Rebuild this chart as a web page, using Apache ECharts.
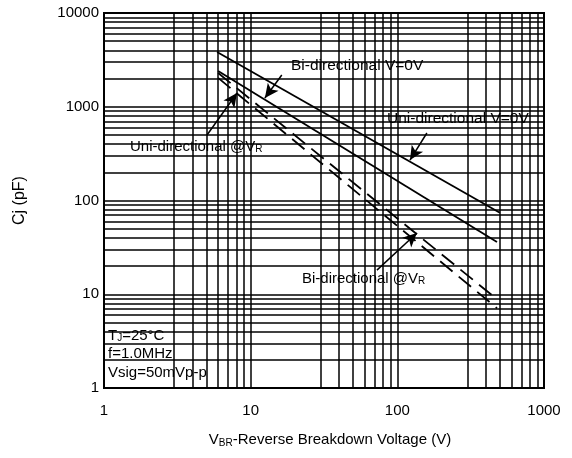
<!DOCTYPE html>
<html>
<head>
<meta charset="utf-8">
<script src="https://cdn.jsdelivr.net/npm/echarts@6/dist/echarts.min.js"></script>
<style>
    html, body { margin: 0; padding: 0; background: #fff; }
    #main { width: 572px; height: 458px; }
</style>
</head>
<body>
<div id="main"></div>
<script>
    // axis grid values (log scale)
    const xMinor = [3, 4, 5, 6, 7, 8, 9, 30, 40, 50, 60, 70, 80, 90, 300, 400, 500, 600, 700, 800, 900];
    const yMinor = [2, 3, 4, 5, 6, 7, 8, 9, 20, 30, 40, 50, 60, 70, 80, 90,
        200, 300, 400, 500, 600, 700, 800, 900, 2000, 3000, 4000, 5000, 6000, 7000, 8000, 9000];

    // curves: breakdown voltage (V) -> junction capacitance (pF)
    const uniZeroVolt = [5.9, 500];
    const uniZeroCap = [3840, 74];
    const biZeroVolt = [6.0, 478];
    const biZeroCap = [2400, 36];
    const uniVrVolt = [6.0, 441];
    const uniVrCap = [2290, 9.8];
    const biVrVolt = [6.0, 478];
    const biVrCap = [2030, 7.1];

    function zip(a, b) {
        return a.map((v, i) => [v, b[i]]);
    }

    const font = 'Liberation Sans, Arial, sans-serif';
    const chart = echarts.init(document.getElementById('main'));

    function arrow(from, to) {
        return [{ coord: from, symbol: 'none' }, { coord: to, symbol: 'arrow' }];
    }

    chart.setOption({
        animation: false,
        backgroundColor: '#fff',
        grid: {
            left: 104, right: 28, top: 13, bottom: 70,
            show: true, borderColor: '#000', borderWidth: 2
        },
        xAxis: {
            type: 'log', logBase: 10, min: 1, max: 1000,
            name: '{a|V}{b|BR}{a|-Reverse Breakdown Voltage (V)}',
            nameLocation: 'middle', nameGap: 44,
            nameTextStyle: {
                padding: [0, 0, 0, 12],
                rich: {
                    a: { fontFamily: font, fontSize: 15, color: '#000' },
                    b: { fontFamily: font, fontSize: 10, color: '#000', verticalAlign: 'bottom', padding: [6, 0, 0, 0] }
                }
            },
            axisLine: { lineStyle: { color: '#000', width: 2 } },
            axisTick: { show: false },
            axisLabel: { color: '#000', fontFamily: font, fontSize: 15, margin: 15, formatter: v => String(v) },
            splitLine: { show: true, lineStyle: { color: '#000', width: 1.5 } }
        },
        yAxis: {
            type: 'log', logBase: 10, min: 1, max: 10000,
            name: 'Cj (pF)', nameLocation: 'middle', nameGap: 76, nameRotate: 90,
            nameTextStyle: { fontFamily: font, fontSize: 16, color: '#000' },
            axisLine: { lineStyle: { color: '#000', width: 2 } },
            axisTick: { show: false },
            axisLabel: { color: '#000', fontFamily: font, fontSize: 15, margin: 5, formatter: v => String(v) },
            splitLine: { show: true, lineStyle: { color: '#000', width: 1.5 } }
        },
        series: [
            {
                name: 'grid', type: 'line', data: [], silent: true, z: 1,
                markLine: {
                    silent: true, symbol: ['none', 'none'], animation: false,
                    label: { show: false },
                    lineStyle: { color: '#000', width: 1.5, type: 'solid' },
                    data: xMinor.map(v => ({ xAxis: v })).concat(yMinor.map(v => ({ yAxis: v })))
                }
            },
            {
                name: 'Uni-directional V=0V', type: 'line', data: zip(uniZeroVolt, uniZeroCap),
                showSymbol: false, z: 3, lineStyle: { color: '#000', width: 1.8 }
            },
            {
                name: 'Bi-directional V=0V', type: 'line', data: zip(biZeroVolt, biZeroCap),
                showSymbol: false, z: 3, lineStyle: { color: '#000', width: 1.8 }
            },
            {
                name: 'Uni-directional @VR', type: 'line', data: zip(uniVrVolt, uniVrCap),
                showSymbol: false, z: 3, lineStyle: { color: '#000', width: 1.8, type: [16, 8] }
            },
            {
                name: 'Bi-directional @VR', type: 'line', data: zip(biVrVolt, biVrCap),
                showSymbol: false, z: 3, lineStyle: { color: '#000', width: 1.8, type: [16, 8] },
                markLine: {
                    silent: true, animation: false, symbolSize: [10, 14],
                    label: { show: false },
                    lineStyle: { color: '#000', width: 1.5, type: 'solid' },
                    data: [
                        arrow([16.3, 2180], [12.5, 1240]),
                        arrow([159, 525], [122, 270]),
                        arrow([5.04, 500], [8.07, 1400]),
                        arrow([72.6, 18.1], [136, 45])
                    ]
                }
            }
        ],
        graphic: [
            { type: 'text', left: 291, top: 58, z: 10, style: { text: 'Bi-directional V=0V', font: '15.5px ' + font, fill: '#000' } },
            { type: 'text', left: 387, top: 111, z: 10, style: { text: 'Uni-directional V=0V', font: '15.5px ' + font, fill: '#000' } },
            {
                type: 'text', left: 130, top: 139, z: 10,
                style: {
                    text: '{a|Uni-directional @V}{b|R}',
                    rich: { a: { font: '15px ' + font, fill: '#000' }, b: { font: '10px ' + font, fill: '#000', padding: [6, 0, 0, 0] } }
                }
            },
            {
                type: 'text', left: 302, top: 271, z: 10,
                style: {
                    text: '{a|Bi-directional @V}{b|R}',
                    rich: { a: { font: '15px ' + font, fill: '#000' }, b: { font: '10px ' + font, fill: '#000', padding: [6, 0, 0, 0] } }
                }
            },
            {
                type: 'text', left: 108, top: 328, z: 10,
                style: {
                    text: '{a|T}{b|J}{a|=25°C}',
                    rich: { a: { font: '15px ' + font, fill: '#000' }, b: { font: '10px ' + font, fill: '#000', padding: [6, 0, 0, 0] } }
                }
            },
            { type: 'text', left: 108, top: 346, z: 10, style: { text: 'f=1.0MHz', font: '15px ' + font, fill: '#000' } },
            { type: 'text', left: 108, top: 365, z: 10, style: { text: 'Vsig=50mVp-p', font: '15px ' + font, fill: '#000' } }
        ]
    });
</script>
</body>
</html>
